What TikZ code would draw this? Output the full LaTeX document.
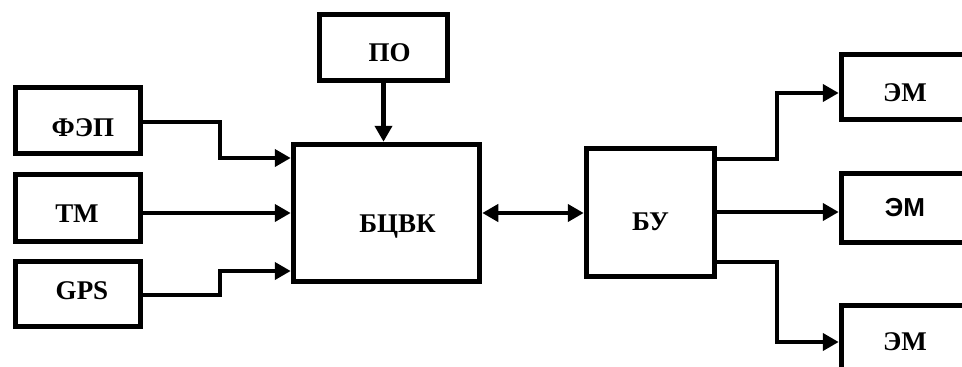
\documentclass[tikz,border=0pt]{standalone}
\usepackage{fontspec}
\setmainfont{Liberation Serif}
\newfontfamily\arialfont{Liberation Sans}
\usetikzlibrary{arrows.meta,calc}

\tikzset{
  blockbox/.style={draw, line width=5.5pt, minimum width=#1, inner sep=0pt},
  blockbox/.default=125pt,
  lbl/.style={font=\fontsize{27}{32}\selectfont\bfseries, inner sep=0pt},
  tip/.style={Triangle[length=16pt,width=17pt]},
  conn/.style={line width=4.5pt, -{Triangle[length=16pt,width=17pt]}},
  biconn/.style={line width=4.5pt, {Triangle[length=16pt,width=17pt]}-{Triangle[length=16pt,width=17pt]}}
}

\begin{document}
\begin{tikzpicture}[x=1pt,y=-1pt]
  \useasboundingbox (0,0) rectangle (962,367);

  % input blocks
  \node[blockbox, minimum height=66pt] (fep) at (78,120.5) {};
  \node[blockbox, minimum height=67pt] (tm)  at (78,208) {};
  \node[blockbox, minimum height=65pt] (gps) at (78,294) {};
  \node[lbl] (fept) at ($(fep.center)+(5,7)$) {ФЭП};
  \node[lbl] (tmt)  at ($(tm.center)+(-1,6)$) {ТМ};
  \node[lbl] (gpst) at ($(gps.center)+(4,-3)$) {GPS};

  % software block and on-board computer
  \node[blockbox=128pt, minimum height=66pt] (po) at (383.5,47.5) {};
  \node[lbl] (pot) at ($(po.center)+(6,5)$) {ПО};
  \node[blockbox=186pt, minimum height=137pt] (bcvk) at (386.5,213) {};
  \node[lbl] (bcvkt) at ($(bcvk.center)+(11,14)$) {БЦВК};

  % control unit
  \node[blockbox=128pt, minimum height=128pt] (bu) at (650.5,212.5) {};
  \node[lbl] (but) at ($(bu.center)+(0,9)$) {БУ};

  % actuators
  \node[blockbox=127pt, minimum height=65pt] (em1) at (905,87) {};
  \node[blockbox=127pt, minimum height=69pt] (em2) at (905,208) {};
  \node[blockbox=127pt, minimum height=65pt] (em3) at (905,338) {};
  \node[lbl] (em1t) at ($(em1.center)+(0,6)$) {ЭМ};
  \node[lbl, font=\fontsize{26}{31}\selectfont\arialfont\bfseries] (em2t) at (em2.center) {ЭМ};
  \node[lbl] (em3t) at ($(em3.center)+(0,4)$) {ЭМ};

  % connectors into the computer
  \draw[conn] (fep.east |- 0,122) -- (220,122) -- (220,158) -- (bcvk.west |- 0,158);
  \draw[conn] (tm.east |- bcvk.west) -- (bcvk.west);
  \draw[conn] (gps.east |- 0,295) -- (220,295) -- (220,271) -- (bcvk.west |- 0,271);
  \draw[conn] (po.south) -- (po.south |- bcvk.north);

  % computer <-> control unit
  \draw[biconn] (bcvk.east) -- (bu.west |- bcvk.east);

  % control unit to actuators
  \draw[conn] (bu.east |- 0,159) -- (777,159) -- (777,93) -- (em1.west |- 0,93);
  \draw[conn] (bu.east |- 0,212) -- (em2.west |- 0,212);
  \draw[conn] (bu.east |- 0,262) -- (777,262) -- (777,342) -- (em3.west |- 0,342);
\end{tikzpicture}
\end{document}
